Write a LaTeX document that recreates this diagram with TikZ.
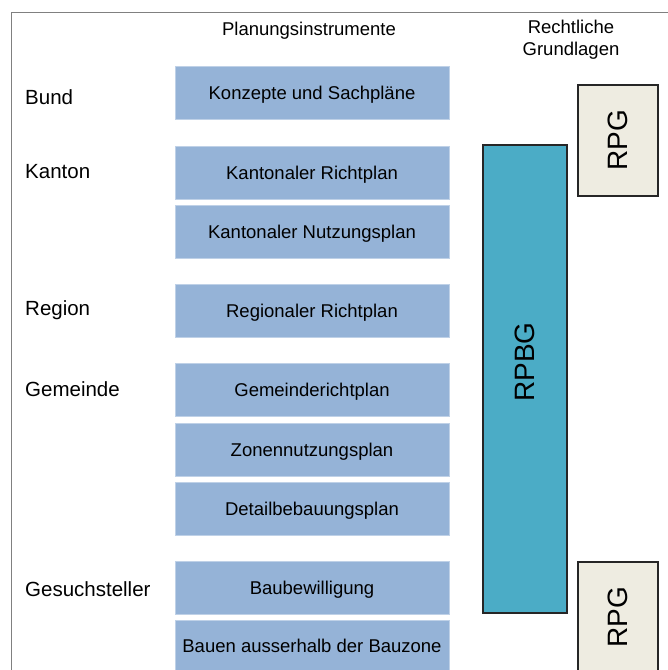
\documentclass[tikz,border=0pt]{standalone}
\usepackage{fontspec}
\setmainfont{Liberation Sans}
\definecolor{planblue}{HTML}{95B3D7}
\definecolor{lawblue}{HTML}{4BACC6}
\definecolor{lawgrey}{HTML}{EEECE1}
\begin{document}
\begin{tikzpicture}[x = 1pt, y = -1pt,
  plan/.style = {fill = planblue, draw = planblue!60!white, line width = 0.6pt,
    minimum width = 274pt, minimum height = 53pt, inner sep = 0pt,
    text height = 14.5pt, text depth = 0pt,
    font = \fontsize{18.5}{22}\selectfont},
  level/.style = {anchor = west, inner sep = 0pt, font = \fontsize{20.5}{24}\selectfont},
  head/.style = {align = center, inner sep = 0pt, font = \fontsize{18.5}{22}\selectfont},
  law/.style = {draw = black!85, line width = 1.3pt, inner sep = 0pt,
    font = \fontsize{28}{32}\selectfont}]
\useasboundingbox (0, 0) rectangle (668, 670);
\clip (0, 0) rectangle (668, 670);
\draw[gray, line width = 0.8pt] (11, 670) -- (11, 12) -- (668, 12);

\node[head] (plan) at (309, 31) {Planungsinstrumente};
\node[head] (grund) at (571, 40) {Rechtliche\\Grundlagen};

\node[level] (bund) at (25, 97) {Bund};
\node[level] (kanton) at (25, 172) {Kanton};
\node[level] (region) at (25, 310) {Region};
\node[level] (gemeinde) at (25, 389) {Gemeinde};
\node[level] (gesuch) at (25, 589) {Gesuchsteller};

\node[plan] (konzepte) at (312, 92.5) {Konzepte und Sachpläne};
\node[plan] (krichtplan) at (312, 172.5) {Kantonaler Richtplan};
\node[plan] (knutzung) at (312, 231.5) {Kantonaler Nutzungsplan};
\node[plan] (rrichtplan) at (312, 310.5) {Regionaler Richtplan};
\node[plan] (grichtplan) at (312, 389.5) {Gemeinderichtplan};
\node[plan] (zonen) at (312, 449.5) {Zonennutzungsplan};
\node[plan] (detail) at (312, 508.5) {Detailbebauungsplan};
\node[plan] (bewilligung) at (312, 587.5) {Baubewilligung};
\node[plan, anchor = north] (ausserhalb) at (312, 620) {};
\node[font = \fontsize{18.5}{22}\selectfont] (ausserhalbtext) at (312, 646) {Bauen ausserhalb der Bauzone};

\node[law, fill = lawblue, line width = 1.8pt, minimum width = 84pt, minimum height = 468pt] (rpbg) at (525, 379) {};
\node[rotate = 90, inner sep = 0pt, font = \fontsize{28}{32}\selectfont] (rpbgtext) at (525, 362) {RPBG};

\node[law, fill = lawgrey, minimum width = 80pt, minimum height = 111pt] (rpgtop) at (618, 140.5) {\rotatebox{90}{RPG}};
\node[law, fill = lawgrey, minimum width = 80pt, minimum height = 111pt] (rpgbottom) at (618, 617.5) {\rotatebox{90}{RPG}};

\end{tikzpicture}
\end{document}
